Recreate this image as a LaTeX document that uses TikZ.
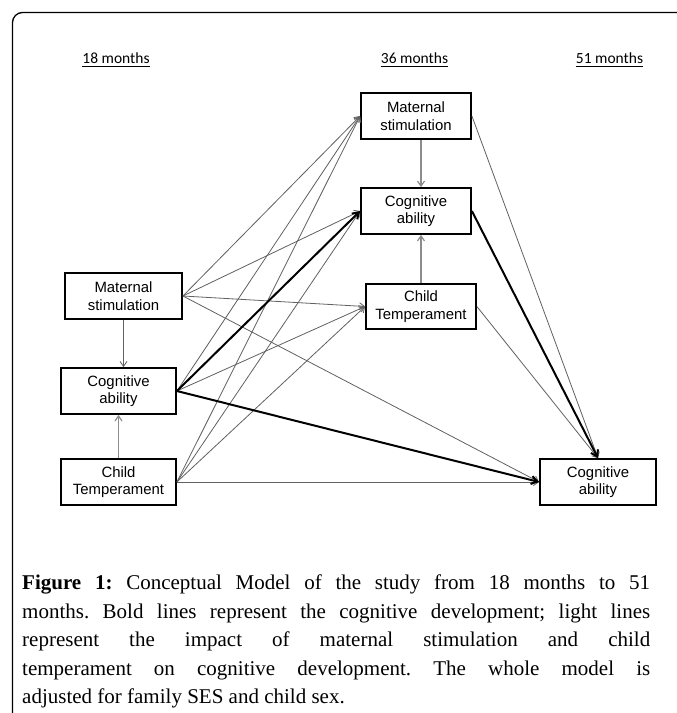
\documentclass[tikz,border=0pt]{standalone}
\usepackage{fontspec}
\setmainfont{Liberation Serif}
\newfontfamily\boxfont{Liberation Sans}
\newfontfamily\headfont{Carlito}
\usetikzlibrary{arrows.meta}
\begin{document}
\begin{tikzpicture}[x=1pt,y=-1pt,
  box/.style={draw=black,line width=1.8pt,font=\boxfont\fontsize{14.9}{17.5}\selectfont,align=center,minimum width=110pt,minimum height=46pt,inner sep=0pt},
  thinarr/.style={draw=black!62,line width=0.8pt,-{Straight Barb[length=5pt,width=7pt]}},
  boldarr/.style={draw=black,line width=2pt,-{Straight Barb[length=6pt,width=8pt]}},
  vertarr/.style={draw=black!45,line width=1.2pt,-{Straight Barb[length=5pt,width=7pt]}},
  head/.style={font=\headfont\fontsize{15.5}{18}\selectfont,anchor=base,inner sep=0pt},
  uline/.style={line width=0.9pt}]
\useasboundingbox (0,0) rectangle (677,713);
\fill[white] (0,0) rectangle (677,713);
\draw[line width=1.3pt,rounded corners=10pt] (12.5,760) -- (12.5,12.5) -- (720,12.5);

% headings
\node[head] (h18) at (116,63) {18 months};
\node[head] (h36) at (414.5,63) {36 months};
\node[head] (h51) at (609.5,63) {51 months};
\draw[uline] ([yshift=-3pt]h18.base west) -- ([yshift=-3pt]h18.base east);
\draw[uline] ([yshift=-3pt]h36.base west) -- ([yshift=-3pt]h36.base east);
\draw[uline] ([yshift=-3pt]h51.base west) -- ([yshift=-3pt]h51.base east);

% boxes
\node[box,minimum width=117pt] (ms18) at (123.5,296) {Maternal\\stimulation};
\node[box,minimum width=115pt] (cog18) at (118.5,391) {Cognitive\\ability};
\node[box,minimum width=115pt] (ct18) at (118.5,482) {Child\\Temperament};
\node[box] (ms36) at (416,116) {Maternal\\stimulation};
\node[box] (cog36) at (416,211) {Cognitive\\ability};
\node[box,minimum height=45pt] (ct36) at (421,306.5) {Child\\Temperament};
\node[box,minimum width=116pt] (cog51) at (598,482) {Cognitive\\ability};

% within-time paths
\draw[thinarr] (ms18.south) -- (ms18.south |- cog18.north);
\draw[vertarr] (ct18.north) -- (cog18.south);
\draw[vertarr] (ms36.south -| ct36.north) -- (cog36.north -| ct36.north);
\draw[vertarr] (ct36.north) -- (cog36.south -| ct36.north);

% 18 -> 36 / 51 thin
\draw[thinarr] (ms18.east) -- (ms36.west);
\draw[thinarr] (ms18.east) -- (cog36.west);
\draw[thinarr] (ms18.east) -- (ct36.west);
\draw[thinarr] (ms18.east) -- (cog51.west);
\draw[thinarr] (cog18.east) -- (ms36.west);
\draw[thinarr] (cog18.east) -- (ct36.west);
\draw[thinarr] (ct18.east) -- (ms36.west);
\draw[thinarr] (ct18.east) -- (cog36.west);
\draw[thinarr] (ct18.east) -- (ct36.west);
\draw[thinarr] (ct18.east) -- (cog51.west);
% 36 -> 51 thin
\draw[thinarr] (ms36.east) -- (cog51.north);
\draw[thinarr] (ct36.east) -- (cog51.north);
% bold
\draw[boldarr] (cog18.east) -- (cog36.west);
\draw[boldarr] (cog18.east) -- (cog51.west);
\draw[boldarr] (cog36.east) -- (cog51.north);

% caption
\node[anchor=north west,inner sep=0pt,text width=628pt,align=justify,font=\frenchspacing\fontsize{21}{28.5}\selectfont] (cap) at (22,575) {\textbf{Figure 1:} Conceptual Model of the study from 18 months to 51\linebreak months. Bold lines represent the cognitive development; light lines\linebreak represent the impact of maternal stimulation and child\linebreak temperament on cognitive development. The whole model is\linebreak adjusted for family SES and child sex.};
\end{tikzpicture}
\end{document}
